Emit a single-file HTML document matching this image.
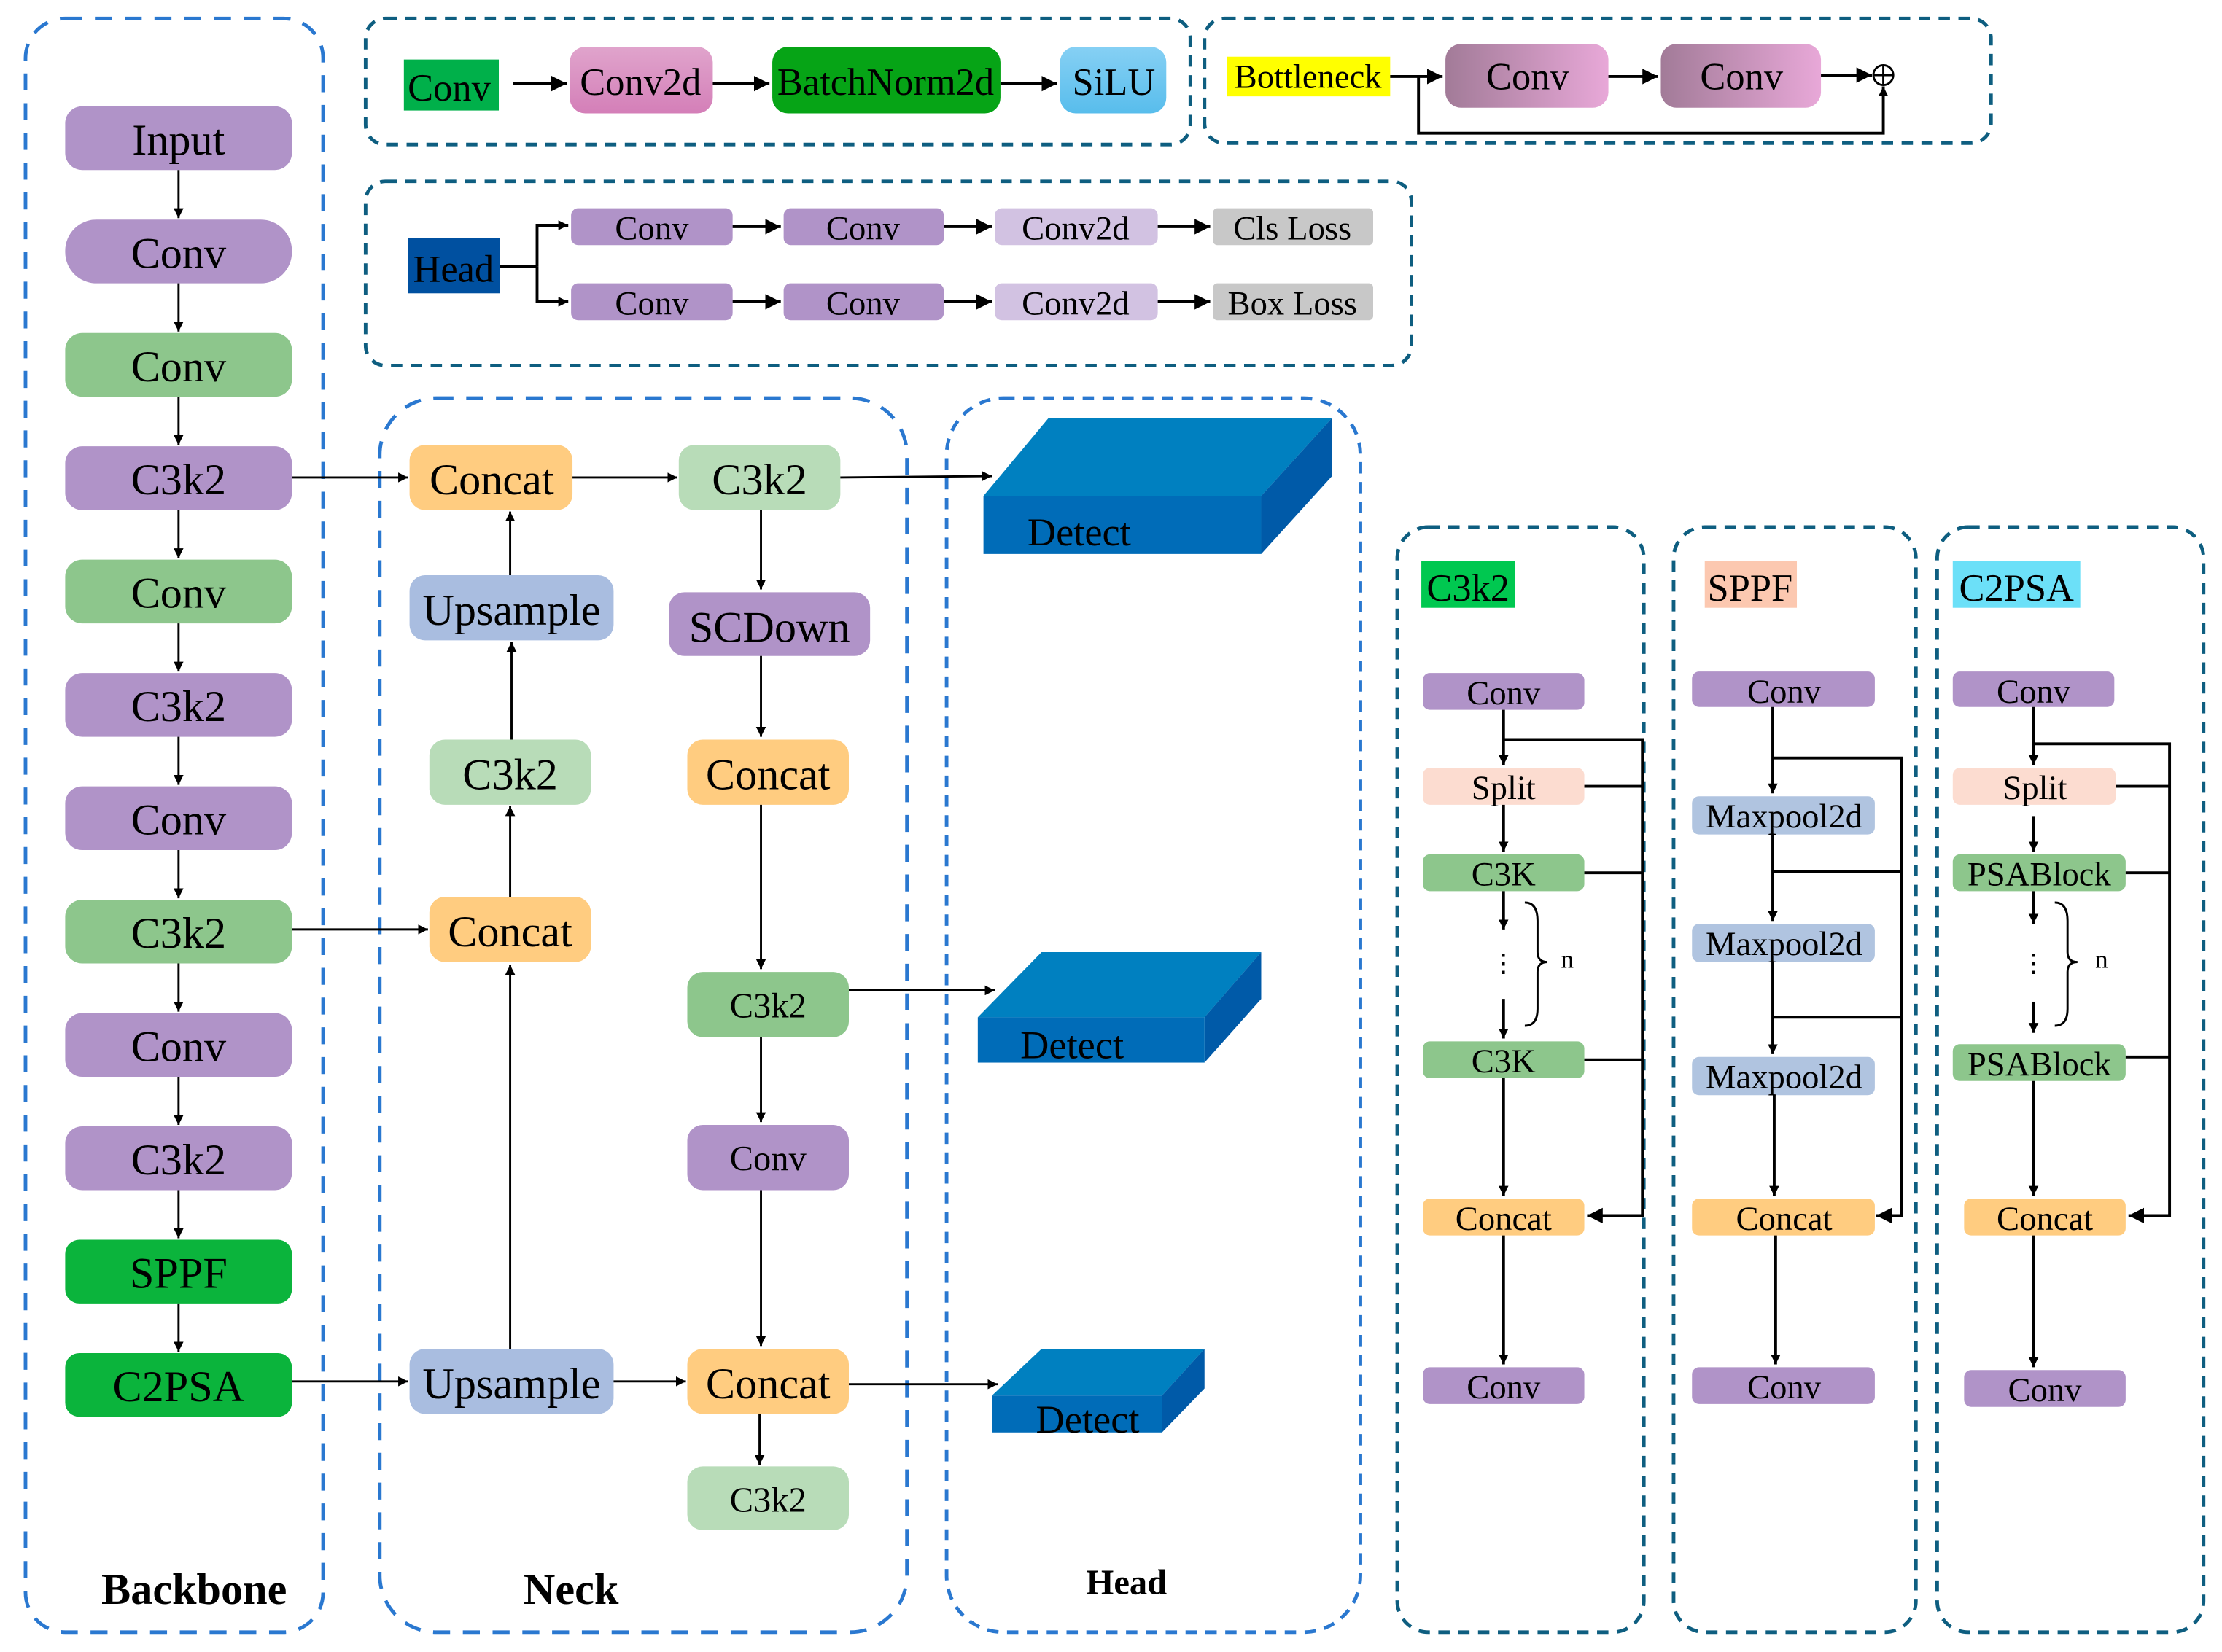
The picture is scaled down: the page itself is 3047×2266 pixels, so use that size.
<!DOCTYPE html>
<html><head><meta charset="utf-8"><style>
html,body{margin:0;padding:0;background:#fff}
svg{display:block}
text{font-family:"Liberation Serif",serif;fill:#000}
</style></head><body>
<svg width="3047" height="2266" viewBox="0 0 1568 1166" preserveAspectRatio="none" xmlns="http://www.w3.org/2000/svg">
<defs>
<marker id="a" viewBox="0 0 10 10" refX="10" refY="5" markerWidth="7" markerHeight="7" orient="auto" markerUnits="userSpaceOnUse"><path d="M0,0 L10,5 L0,10 z" fill="#000"/></marker>
<marker id="b" viewBox="0 0 10 10" refX="10" refY="5" markerWidth="11" markerHeight="11" orient="auto" markerUnits="userSpaceOnUse"><path d="M0,0 L10,5 L0,10 z" fill="#000"/></marker>
<linearGradient id="pk" x1="0" y1="0" x2="0" y2="1"><stop offset="0" stop-color="#e0a4cc"/><stop offset="1" stop-color="#d47fb8"/></linearGradient>
<linearGradient id="sl" x1="0" y1="0" x2="0" y2="1"><stop offset="0" stop-color="#86d0f4"/><stop offset="1" stop-color="#58bdec"/></linearGradient>
<linearGradient id="bn" x1="0" y1="0" x2="1" y2="0"><stop offset="0" stop-color="#a27b98"/><stop offset="1" stop-color="#e8a8d8"/></linearGradient>
</defs>

<!-- containers -->
<g fill="none" stroke-width="2.5">
<rect x="18" y="13" width="210" height="1139" rx="28" stroke="#2a78d0" stroke-dasharray="12,9"/>
<rect x="268" y="281" width="372" height="871" rx="40" stroke="#2a78d0" stroke-dasharray="12,9"/>
<rect x="668" y="281" width="292" height="871" rx="40" stroke="#2a78d0" stroke-dasharray="8,6"/>
<rect x="258" y="13" width="582" height="89" rx="14" stroke="#0e5e80" stroke-dasharray="8,6"/>
<rect x="850" y="13" width="555" height="88" rx="14" stroke="#0e5e80" stroke-dasharray="8,6"/>
<rect x="258" y="128" width="738" height="130" rx="14" stroke="#0e5e80" stroke-dasharray="8,6"/>
<rect x="986" y="372" width="174" height="780" rx="22" stroke="#0e5e80" stroke-dasharray="8,6"/>
<rect x="1181" y="372" width="171" height="780" rx="22" stroke="#0e5e80" stroke-dasharray="8,6"/>
<rect x="1367" y="372" width="188" height="780" rx="22" stroke="#0e5e80" stroke-dasharray="8,6"/>
</g>

<!-- backbone -->
<g font-size="31" text-anchor="middle">
<rect x="46" y="75" width="160" height="45" rx="12" fill="#b093c8"/><text x="126" y="109">Input</text>
<rect x="46" y="155" width="160" height="45" rx="22" fill="#b093c8"/><text x="126" y="189">Conv</text>
<rect x="46" y="235" width="160" height="45" rx="12" fill="#8dc68c"/><text x="126" y="269">Conv</text>
<rect x="46" y="315" width="160" height="45" rx="12" fill="#b093c8"/><text x="126" y="349">C3k2</text>
<rect x="46" y="395" width="160" height="45" rx="12" fill="#8dc68c"/><text x="126" y="429">Conv</text>
<rect x="46" y="475" width="160" height="45" rx="12" fill="#b093c8"/><text x="126" y="509">C3k2</text>
<rect x="46" y="555" width="160" height="45" rx="12" fill="#b093c8"/><text x="126" y="589">Conv</text>
<rect x="46" y="635" width="160" height="45" rx="12" fill="#8dc68c"/><text x="126" y="669">C3k2</text>
<rect x="46" y="715" width="160" height="45" rx="12" fill="#b093c8"/><text x="126" y="749">Conv</text>
<rect x="46" y="795" width="160" height="45" rx="12" fill="#b093c8"/><text x="126" y="829">C3k2</text>
<rect x="46" y="875" width="160" height="45" rx="10" fill="#0bb43c"/><text x="126" y="909">SPPF</text>
<rect x="46" y="955" width="160" height="45" rx="10" fill="#0bb43c"/><text x="126" y="989">C2PSA</text>
</g>
<g stroke="#000" stroke-width="1.5" marker-end="url(#a)">
<line x1="126" y1="120" x2="126" y2="154"/><line x1="126" y1="200" x2="126" y2="234"/>
<line x1="126" y1="280" x2="126" y2="314"/><line x1="126" y1="360" x2="126" y2="394"/>
<line x1="126" y1="440" x2="126" y2="474"/><line x1="126" y1="520" x2="126" y2="554"/>
<line x1="126" y1="600" x2="126" y2="634"/><line x1="126" y1="680" x2="126" y2="714"/>
<line x1="126" y1="760" x2="126" y2="794"/><line x1="126" y1="840" x2="126" y2="874"/>
<line x1="126" y1="920" x2="126" y2="954"/>
</g>
<text x="137" y="1132" font-size="31" font-weight="bold" text-anchor="middle">Backbone</text>

<!-- neck -->
<g font-size="31" text-anchor="middle">
<rect x="289" y="314" width="115" height="46" rx="11" fill="#ffcc80"/><text x="347" y="349">Concat</text>
<rect x="479" y="314" width="114" height="46" rx="11" fill="#b8dcb8"/><text x="536" y="349">C3k2</text>
<rect x="289" y="406" width="144" height="46" rx="11" fill="#a9bde0"/><text x="361" y="441">Upsample</text>
<rect x="472" y="418" width="142" height="45" rx="11" fill="#b093c8"/><text x="543" y="453">SCDown</text>
<rect x="303" y="522" width="114" height="46" rx="11" fill="#b8dcb8"/><text x="360" y="557">C3k2</text>
<rect x="485" y="522" width="114" height="46" rx="11" fill="#ffcc80"/><text x="542" y="557">Concat</text>
<rect x="303" y="633" width="114" height="46" rx="11" fill="#ffcc80"/><text x="360" y="668">Concat</text>
<rect x="485" y="686" width="114" height="46" rx="11" fill="#8dc68c"/><text x="542" y="718" font-size="25">C3k2</text>
<rect x="485" y="794" width="114" height="46" rx="11" fill="#b093c8"/><text x="542" y="826" font-size="25">Conv</text>
<rect x="289" y="952" width="144" height="46" rx="11" fill="#a9bde0"/><text x="361" y="987">Upsample</text>
<rect x="485" y="952" width="114" height="46" rx="11" fill="#ffcc80"/><text x="542" y="987">Concat</text>
<rect x="485" y="1035" width="114" height="45" rx="11" fill="#b8dcb8"/><text x="542" y="1067" font-size="25">C3k2</text>
</g>
<g stroke="#000" stroke-width="1.5" fill="none" marker-end="url(#a)">
<line x1="206" y1="337" x2="288" y2="337"/>
<line x1="404" y1="337" x2="478" y2="337"/>
<line x1="593" y1="337" x2="700" y2="336"/>
<line x1="206" y1="656" x2="302" y2="656"/>
<line x1="206" y1="975" x2="288" y2="975"/>
<line x1="433" y1="975" x2="484" y2="975"/>
<line x1="599" y1="977" x2="704" y2="977"/>
<line x1="599" y1="699" x2="702" y2="699"/>
<line x1="536" y1="998" x2="536" y2="1034"/>
<line x1="360" y1="952" x2="360" y2="681"/>
<line x1="360" y1="633" x2="360" y2="569"/>
<line x1="361" y1="522" x2="361" y2="453"/>
<line x1="360" y1="406" x2="360" y2="361"/>
<line x1="537" y1="360" x2="537" y2="416"/>
<line x1="537" y1="463" x2="537" y2="520"/>
<line x1="537" y1="568" x2="537" y2="684"/>
<line x1="537" y1="732" x2="537" y2="792"/>
<line x1="537" y1="840" x2="537" y2="950"/>
</g>
<text x="403" y="1132" font-size="31" font-weight="bold" text-anchor="middle">Neck</text>

<!-- detect blocks -->
<g font-size="28">
<polygon points="694,350 740,295 940,295 890,350" fill="#0080c0"/>
<polygon points="890,350 940,295 940,336 890,391" fill="#005aa8"/>
<rect x="694" y="350" width="196" height="41" fill="#006cb8"/>
<text x="725" y="385">Detect</text>
<polygon points="690,718 735,672 890,672 850,718" fill="#0080c0"/>
<polygon points="850,718 890,672 890,705 850,750" fill="#005aa8"/>
<rect x="690" y="718" width="160" height="32" fill="#006cb8"/>
<text x="720" y="747">Detect</text>
<polygon points="700,985 735,952 850,952 820,985" fill="#0080c0"/>
<polygon points="820,985 850,952 850,980 820,1011" fill="#005aa8"/>
<rect x="700" y="985" width="120" height="26" fill="#006cb8"/>
<text x="731" y="1011">Detect</text>
</g>
<text x="795" y="1125" font-size="25" font-weight="bold" text-anchor="middle">Head</text>

<!-- top box 1 -->
<g font-size="27" text-anchor="middle">
<rect x="285" y="42" width="67" height="36" fill="#00b04a"/><text x="317" y="71">Conv</text>
<rect x="402" y="33" width="101" height="47" rx="11" fill="url(#pk)"/><text x="452" y="67">Conv2d</text>
<rect x="545" y="33" width="161" height="47" rx="11" fill="#06a416"/><text x="625" y="67">BatchNorm2d</text>
<rect x="748" y="33" width="75" height="47" rx="11" fill="url(#sl)"/><text x="786" y="67">SiLU</text>
</g>
<g stroke="#000" stroke-width="2" marker-end="url(#b)">
<line x1="362" y1="59" x2="400" y2="59"/><line x1="503" y1="59" x2="543" y2="59"/><line x1="706" y1="59" x2="746" y2="59"/>
</g>

<!-- top box 2 -->
<rect x="866" y="40" width="115" height="28" fill="#ffff00"/>
<text x="923" y="62" font-size="24" text-anchor="middle">Bottleneck</text>
<rect x="1020" y="31" width="115" height="45" rx="11" fill="url(#bn)"/><text x="1078" y="63" font-size="27" text-anchor="middle">Conv</text>
<rect x="1172" y="31" width="113" height="45" rx="11" fill="url(#bn)"/><text x="1229" y="63" font-size="27" text-anchor="middle">Conv</text>
<g stroke="#000" stroke-width="2" fill="none">
<line x1="981" y1="54" x2="1018" y2="54" marker-end="url(#b)"/>
<line x1="1135" y1="54" x2="1170" y2="54" marker-end="url(#b)"/>
<line x1="1285" y1="53" x2="1321" y2="53" marker-end="url(#b)"/>
<polyline points="1001,54 1001,94 1329,94 1329,61" marker-end="url(#a)"/>
<circle cx="1329" cy="53" r="7" stroke-width="1.5"/>
<line x1="1322" y1="53" x2="1336" y2="53" stroke-width="1.5"/><line x1="1329" y1="46" x2="1329" y2="60" stroke-width="1.5"/>
</g>

<!-- head box -->
<rect x="288" y="168" width="65" height="39" fill="#0050a0"/><text x="320" y="199" font-size="27" text-anchor="middle">Head</text>
<g font-size="24" text-anchor="middle">
<rect x="403" y="147" width="114" height="26" rx="5" fill="#b093c8"/><text x="460" y="169">Conv</text>
<rect x="553" y="147" width="113" height="26" rx="5" fill="#b093c8"/><text x="609" y="169">Conv</text>
<rect x="702" y="147" width="115" height="26" rx="5" fill="#d2c2e2"/><text x="759" y="169">Conv2d</text>
<rect x="856" y="147" width="113" height="26" rx="3" fill="#c8c8c8"/><text x="912" y="169">Cls Loss</text>
<rect x="403" y="200" width="114" height="26" rx="5" fill="#b093c8"/><text x="460" y="222">Conv</text>
<rect x="553" y="200" width="113" height="26" rx="5" fill="#b093c8"/><text x="609" y="222">Conv</text>
<rect x="702" y="200" width="115" height="26" rx="5" fill="#d2c2e2"/><text x="759" y="222">Conv2d</text>
<rect x="856" y="200" width="113" height="26" rx="3" fill="#c8c8c8"/><text x="912" y="222">Box Loss</text>
</g>
<g stroke="#000" stroke-width="2" fill="none">
<line x1="353" y1="188" x2="379" y2="188"/>
<polyline points="379,188 379,159 401,159" marker-end="url(#a)"/>
<polyline points="379,188 379,213 401,213" marker-end="url(#a)"/>
<line x1="517" y1="160" x2="551" y2="160" marker-end="url(#b)"/>
<line x1="666" y1="160" x2="700" y2="160" marker-end="url(#b)"/>
<line x1="817" y1="160" x2="854" y2="160" marker-end="url(#b)"/>
<line x1="517" y1="213" x2="551" y2="213" marker-end="url(#b)"/>
<line x1="666" y1="213" x2="700" y2="213" marker-end="url(#b)"/>
<line x1="817" y1="213" x2="854" y2="213" marker-end="url(#b)"/>
</g>

<!-- C3k2 panel -->
<rect x="1003" y="396" width="66" height="33" fill="#00c850"/><text x="1036" y="424" font-size="27" text-anchor="middle">C3k2</text>
<g font-size="24" text-anchor="middle">
<rect x="1004" y="475" width="114" height="26" rx="5" fill="#b093c8"/><text x="1061" y="497">Conv</text>
<rect x="1004" y="542" width="114" height="26" rx="5" fill="#fcdcd0"/><text x="1061" y="564">Split</text>
<rect x="1004" y="603" width="114" height="26" rx="5" fill="#8dc68c"/><text x="1061" y="625">C3K</text>
<rect x="1004" y="735" width="114" height="26" rx="5" fill="#8dc68c"/><text x="1061" y="757">C3K</text>
<rect x="1004" y="846" width="114" height="26" rx="5" fill="#ffcc80"/><text x="1061" y="868">Concat</text>
<rect x="1004" y="965" width="114" height="26" rx="5" fill="#b093c8"/><text x="1061" y="987">Conv</text>
</g>
<g stroke="#000" stroke-width="2" fill="none">
<line x1="1061" y1="501" x2="1061" y2="540" marker-end="url(#a)"/>
<line x1="1061" y1="568" x2="1061" y2="601" marker-end="url(#a)"/>
<line x1="1061" y1="629" x2="1061" y2="656" marker-end="url(#a)"/>
<line x1="1061" y1="705" x2="1061" y2="733" marker-end="url(#a)"/>
<line x1="1061" y1="761" x2="1061" y2="844" marker-end="url(#a)"/>
<line x1="1061" y1="872" x2="1061" y2="963" marker-end="url(#a)"/>
<polyline points="1061,522 1159,522 1159,858 1120,858" marker-end="url(#b)"/>
<line x1="1118" y1="555" x2="1159" y2="555"/><line x1="1118" y1="616" x2="1159" y2="616"/><line x1="1118" y1="748" x2="1159" y2="748"/>
<path d="M1076,637 Q1085,637 1085,650 L1085,672 Q1085,679 1092,679 Q1085,679 1085,686 L1085,712 Q1085,724 1076,724" stroke-width="1.5"/>
</g>
<text x="1061" y="686" font-size="18" text-anchor="middle">⋮</text>
<text x="1106" y="683" font-size="18" text-anchor="middle">n</text>

<!-- SPPF panel -->
<rect x="1203" y="396" width="65" height="33" fill="#fcc8b0"/><text x="1235" y="424" font-size="27" text-anchor="middle">SPPF</text>
<g font-size="24" text-anchor="middle">
<rect x="1194" y="474" width="129" height="25" rx="5" fill="#b093c8"/><text x="1259" y="496">Conv</text>
<rect x="1194" y="562" width="129" height="27" rx="5" fill="#b0c4e0"/><text x="1259" y="584">Maxpool2d</text>
<rect x="1194" y="652" width="129" height="27" rx="5" fill="#b0c4e0"/><text x="1259" y="674">Maxpool2d</text>
<rect x="1194" y="746" width="129" height="27" rx="5" fill="#b0c4e0"/><text x="1259" y="768">Maxpool2d</text>
<rect x="1194" y="846" width="129" height="26" rx="5" fill="#ffcc80"/><text x="1259" y="868">Concat</text>
<rect x="1194" y="965" width="129" height="26" rx="5" fill="#b093c8"/><text x="1259" y="987">Conv</text>
</g>
<g stroke="#000" stroke-width="2" fill="none">
<line x1="1251" y1="499" x2="1251" y2="560" marker-end="url(#a)"/>
<line x1="1251" y1="589" x2="1251" y2="650" marker-end="url(#a)"/>
<line x1="1251" y1="679" x2="1251" y2="744" marker-end="url(#a)"/>
<line x1="1252" y1="773" x2="1252" y2="844" marker-end="url(#a)"/>
<line x1="1253" y1="872" x2="1253" y2="963" marker-end="url(#a)"/>
<polyline points="1252,535 1342,535 1342,858 1324,858" marker-end="url(#b)"/>
<line x1="1252" y1="615" x2="1342" y2="615"/><line x1="1252" y1="718" x2="1342" y2="718"/>
</g>

<!-- C2PSA panel -->
<rect x="1378" y="396" width="90" height="33" fill="#6ce0f8"/><text x="1423" y="424" font-size="27" text-anchor="middle">C2PSA</text>
<g font-size="24" text-anchor="middle">
<rect x="1378" y="474" width="114" height="25" rx="5" fill="#b093c8"/><text x="1435" y="496">Conv</text>
<rect x="1378" y="542" width="115" height="26" rx="5" fill="#fcdcd0"/><text x="1436" y="564">Split</text>
<rect x="1378" y="603" width="122" height="26" rx="5" fill="#8dc68c"/><text x="1439" y="625">PSABlock</text>
<rect x="1378" y="737" width="122" height="26" rx="5" fill="#8dc68c"/><text x="1439" y="759">PSABlock</text>
<rect x="1386" y="846" width="114" height="26" rx="5" fill="#ffcc80"/><text x="1443" y="868">Concat</text>
<rect x="1386" y="967" width="114" height="26" rx="5" fill="#b093c8"/><text x="1443" y="989">Conv</text>
</g>
<g stroke="#000" stroke-width="2" fill="none">
<line x1="1435" y1="499" x2="1435" y2="540" marker-end="url(#a)"/>
<line x1="1435" y1="576" x2="1435" y2="601" marker-end="url(#a)"/>
<line x1="1435" y1="629" x2="1435" y2="652" marker-end="url(#a)"/>
<line x1="1435" y1="707" x2="1435" y2="729" marker-end="url(#a)"/>
<line x1="1435" y1="763" x2="1435" y2="844" marker-end="url(#a)"/>
<line x1="1435" y1="872" x2="1435" y2="965" marker-end="url(#a)"/>
<polyline points="1435,525 1531,525 1531,858 1502,858" marker-end="url(#b)"/>
<line x1="1493" y1="555" x2="1531" y2="555"/><line x1="1500" y1="616" x2="1531" y2="616"/><line x1="1500" y1="746" x2="1531" y2="746"/>
<path d="M1450,637 Q1459,637 1459,650 L1459,672 Q1459,679 1466,679 Q1459,679 1459,686 L1459,712 Q1459,724 1450,724" stroke-width="1.5"/>
</g>
<text x="1435" y="686" font-size="18" text-anchor="middle">⋮</text>
<text x="1483" y="683" font-size="18" text-anchor="middle">n</text>
</svg>
</body></html>
